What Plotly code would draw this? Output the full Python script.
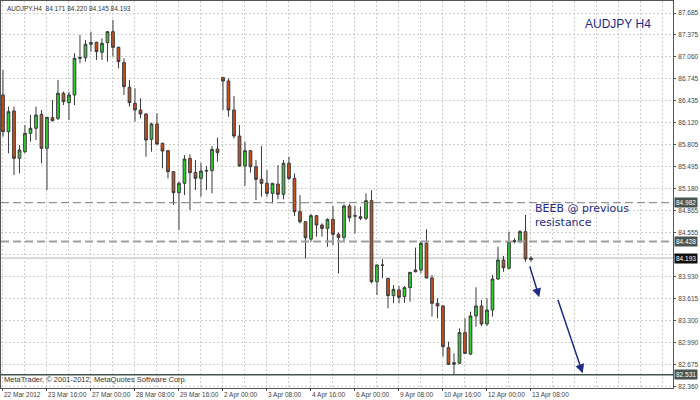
import plotly.graph_objects as go

# ---- data (AUDJPY H4, bars from 22 Mar 2012 08:00 to 13 Apr 2012 08:00) ----
opens = [86.517, 85.994, 86.289, 85.614, 85.709, 85.971, 86.042, 86.241, 85.757, 86.194,
         86.184, 86.541, 86.408, 86.517, 87.039, 87.049, 87.239, 87.267, 87.125, 87.263,
         87.419, 87.196, 86.978, 86.626, 86.398, 86.303, 86.246, 85.885, 86.104, 85.828,
         85.724, 85.424, 85.125, 85.258, 85.614, 85.414, 85.329, 85.433, 85.440, 85.747,
         86.768, 86.716, 86.303, 85.932, 85.505, 85.723, 85.495, 85.315, 85.258, 85.115,
         85.248, 85.101, 85.543, 85.329, 84.854, 84.711, 84.464, 84.797, 84.664, 84.616,
         84.745, 84.531, 84.488, 84.935, 84.790, 84.783, 84.759, 85.011, 83.856, 84.095,
         83.905, 83.658, 83.739, 83.644, 83.772, 84.024, 84.024, 84.404, 83.910, 83.549,
         83.511, 82.917, 82.679, 82.694, 83.131, 82.826, 83.368, 83.511, 83.254, 83.454,
         83.895, 84.166, 84.048, 84.427, 84.440, 84.570, 84.171]
highs = [86.873, 86.351, 86.351, 85.804, 86.089, 86.232, 86.351, 86.303, 86.205, 86.446,
         86.731, 86.564, 86.564, 87.111, 87.372, 87.301, 87.419, 87.277, 87.324, 87.425,
         87.586, 87.206, 87.039, 86.731, 86.612, 86.469, 86.256, 86.123, 86.256, 85.838,
         85.733, 85.434, 85.281, 85.661, 85.671, 85.590, 85.552, 85.505, 85.790, 85.908,
         86.775, 86.754, 86.502, 86.089, 85.851, 85.733, 85.590, 85.790, 85.448, 85.265,
         85.519, 85.590, 85.638, 85.400, 85.091, 84.720, 84.821, 84.806, 84.688, 84.759,
         84.935, 84.560, 84.958, 84.963, 84.935, 84.925, 85.115, 85.160, 84.100, 84.176,
         83.910, 83.810, 83.795, 83.795, 83.995, 84.342, 84.437, 84.603, 83.952, 83.620,
         83.520, 83.002, 82.836, 83.192, 83.335, 83.430, 83.777, 83.596, 83.620, 83.952,
         84.356, 84.223, 84.570, 84.475, 84.594, 84.807, 84.220]
lows = [85.923, 85.686, 85.377, 85.401, 85.686, 85.852, 85.876, 85.543, 85.163, 86.137,
        86.161, 86.374, 86.161, 86.374, 86.968, 86.992, 87.134, 87.016, 87.016, 86.992,
        87.063, 86.897, 86.517, 86.351, 86.137, 86.184, 85.638, 85.709, 85.804, 85.472,
        85.329, 84.949, 84.593, 85.091, 84.878, 85.163, 85.068, 85.163, 85.115, 85.566,
        86.303, 86.208, 85.899, 85.495, 85.220, 85.410, 85.020, 85.068, 85.068, 84.973,
        85.030, 85.030, 85.305, 84.792, 84.688, 84.189, 84.426, 84.498, 84.498, 84.355,
        84.379, 83.975, 84.426, 84.711, 84.545, 84.735, 84.735, 83.833, 83.667, 83.905,
        83.477, 83.549, 83.549, 83.558, 83.572, 83.990, 83.976, 83.905, 83.359, 83.335,
        82.789, 82.670, 82.531, 82.680, 82.826, 82.812, 83.216, 83.226, 83.226, 83.359,
        83.881, 83.998, 84.033, 84.404, 84.404, 84.142, 84.145]
closes = [85.994, 86.279, 85.614, 85.733, 85.971, 86.042, 86.232, 85.757, 86.199, 86.151,
          86.541, 86.422, 86.517, 87.039, 87.049, 87.239, 87.263, 87.134, 87.253, 87.419,
          87.196, 86.992, 86.636, 86.408, 86.303, 86.246, 85.876, 86.104, 85.819, 85.719,
          85.424, 85.125, 85.258, 85.604, 85.410, 85.329, 85.433, 85.440, 85.742, 85.695,
          86.716, 86.303, 85.932, 85.505, 85.723, 85.495, 85.315, 85.258, 85.115, 85.258,
          85.101, 85.543, 85.329, 84.854, 84.711, 84.483, 84.797, 84.664, 84.616, 84.745,
          84.531, 84.488, 84.935, 84.768, 84.797, 84.759, 85.011, 83.856, 84.095, 84.090,
          83.658, 83.748, 83.634, 83.772, 83.990, 83.998, 84.404, 83.910, 83.549, 83.511,
          82.931, 82.679, 82.703, 83.131, 82.836, 83.368, 83.511, 83.254, 83.454, 83.895,
          84.166, 84.057, 84.427, 84.440, 84.570, 84.180, 84.193]

date_tick_bars = [0, 8, 16, 24, 32, 40, 48, 56, 64, 72, 80, 88, 96]
date_tick_labels = ["22 Mar 2012", "23 Mar 16:00", "27 Mar 00:00", "28 Mar 08:00",
                    "29 Mar 16:00", "2 Apr 00:00", "3 Apr 08:00", "4 Apr 16:00",
                    "6 Apr 00:00", "9 Apr 08:00", "10 Apr 16:00", "12 Apr 00:00",
                    "13 Apr 08:00"]
price_ticks = [87.685, 87.375, 87.060, 86.745, 86.435, 86.120, 85.805, 85.495, 85.180,
               84.865, 84.555, 84.245, 83.930, 83.615, 83.300, 82.990, 82.675, 82.360]
price_tick_labels = ["87.685", "87.375", "87.060", "86.745", "86.435", "86.120", "85.805",
                     "85.495", "85.180", "84.865", "84.555", "", "83.930", "83.615",
                     "83.300", "82.990", "82.675", "82.360"]

resistance_high = 84.982
resistance_low = 84.428
support_level = 82.531
bid_price = 84.193
header = "AUDJPY.H4  84.171 84.220 84.145 84.193"

bars = list(range(len(opens)))

fig = go.Figure()
fig.add_trace(go.Candlestick(
    x=bars, open=opens, high=highs, low=lows, close=closes,
    increasing=dict(line=dict(color="#3a3a3a", width=1), fillcolor="#32CD32"),
    decreasing=dict(line=dict(color="#3a3a3a", width=1), fillcolor="#C8501E"),
    whiskerwidth=0, showlegend=False, hoverinfo="skip"))

grid_col = "#cfcfcf"
grid_dash = "2px,2px"
tick_font = dict(family="Liberation Sans, Arial, sans-serif", size=6.5, color="#444")
fig.update_layout(
    width=700, height=400,
    margin=dict(l=1, r=27, t=1, b=12),
    paper_bgcolor="white", plot_bgcolor="white",
    font=dict(family="Liberation Sans, Arial, sans-serif", size=8, color="#444"),
    xaxis=dict(
        range=[-0.36, 121.82], rangeslider=dict(visible=False),
        tickmode="array", tickvals=date_tick_bars, ticktext=date_tick_labels,
        ticklabelposition="outside right", tickangle=0, ticks="outside", ticklen=2,
        tickcolor="#555", ticklabelstandoff=0,
        showgrid=True, gridcolor=grid_col, griddash=grid_dash, gridwidth=1,
        minor=dict(tickmode="linear", tick0=0, dtick=4, showgrid=True,
                   gridcolor=grid_col, griddash=grid_dash, gridwidth=1),
        showline=True, linecolor="#555", linewidth=1, mirror=True,
        zeroline=False, tickfont=tick_font, automargin=False),
    yaxis=dict(
        range=[82.342, 87.856], side="right",
        tickmode="array", tickvals=price_ticks, ticktext=price_tick_labels,
        ticks="outside", ticklen=2, tickcolor="#555", ticklabelstandoff=1,
        showgrid=True, gridcolor=grid_col, griddash=grid_dash, gridwidth=1,
        showline=True, linecolor="#555", linewidth=1, mirror=True,
        zeroline=False, tickfont=tick_font, automargin=False),
)

# horizontal levels
fig.add_shape(type="line", xref="paper", x0=0, x1=1, yref="y", y0=bid_price, y1=bid_price,
              line=dict(color="#b4b4b4", width=1), layer="below")
fig.add_shape(type="line", xref="paper", x0=0, x1=1, yref="y", y0=resistance_high, y1=resistance_high,
              line=dict(color="#7a7a7a", width=1, dash="8px,4px"))
fig.add_shape(type="line", xref="paper", x0=0, x1=1, yref="y", y0=resistance_low, y1=resistance_low,
              line=dict(color="#a0a0a0", width=2, dash="8px,4px"))
fig.add_shape(type="line", xref="paper", x0=0, x1=1, yref="y", y0=support_level, y1=support_level,
              line=dict(color="#42524e", width=1.5))

# price boxes on the right axis
for lvl, bg in [(resistance_high, "#46554f"), (resistance_low, "#46554f"),
                (bid_price, "#111111"), (support_level, "#46554f")]:
    fig.add_annotation(xref="paper", x=1, yref="y", y=lvl, text=f"{lvl:.3f}",
                       showarrow=False, xanchor="left", yanchor="middle", xshift=1,
                       bgcolor=bg, font=dict(family="Liberation Sans, Arial", color="white", size=6.5),
                       borderpad=1)

# texts
fig.add_annotation(xref="paper", yref="paper", x=0.006, y=0.995, xanchor="left", yanchor="top",
                   text=header, showarrow=False, font=dict(size=6.5, color="#333"))
fig.add_annotation(xref="paper", yref="paper", x=0.002, y=0.004, xanchor="left", yanchor="bottom",
                   text="MetaTrader, © 2001-2012, MetaQuotes Software Corp.", showarrow=False,
                   font=dict(size=7.5, color="#333"))
fig.add_annotation(xref="x", yref="y", x=105.5, y=87.525, xanchor="left", yanchor="middle",
                   text="AUDJPY H4", showarrow=False,
                   font=dict(family="Liberation Sans, Arial", size=12, color="#1f2b86"))
fig.add_annotation(xref="x", yref="y", x=96.3, y=84.80, xanchor="left", yanchor="middle",
                   text="BEEB @ previous<br>resistance", showarrow=False, align="left",
                   font=dict(family="DejaVu Sans", size=11, color="#1f2b86"))

# projection arrows
arrow_col = "#1f2b86"
fig.add_annotation(xref="x", yref="y", axref="x", ayref="y",
                   x=97.5, y=83.634, ax=95.7, ay=84.094, text="", showarrow=True,
                   arrowhead=2, arrowsize=1.2, arrowwidth=1.5, arrowcolor=arrow_col)
fig.add_annotation(xref="x", yref="y", axref="x", ayref="y",
                   x=105.4, y=82.551, ax=100.8, ay=83.620, text="", showarrow=True,
                   arrowhead=2, arrowsize=1.2, arrowwidth=1.5, arrowcolor=arrow_col)

fig.write_html("out.html", config={"displayModeBar": False},
               post_script="document.body.style.margin='0';")
